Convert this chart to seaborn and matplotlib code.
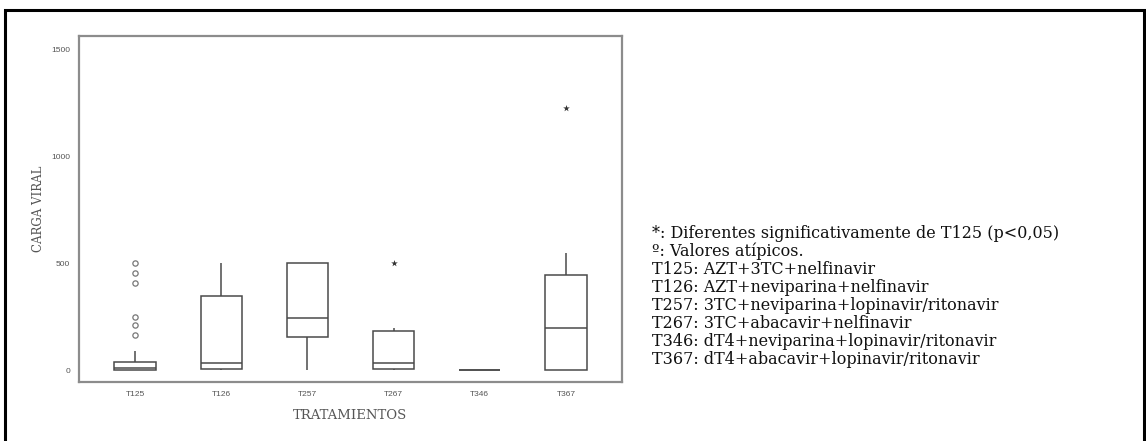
import numpy as np
import pandas as pd
import matplotlib
matplotlib.use("Agg")
import matplotlib.pyplot as plt
from matplotlib.patches import Rectangle
import seaborn as sns

# ---- data (carga viral por tratamiento) ----
categories = ["T125", "T126", "T257", "T267", "T346", "T367"]
t125 = [0, 0, 0, 0, 0, 0, 0, 0, 0, 2, 3, 4, 5, 6, 8, 10, 14, 18, 22, 26, 30, 35, 37, 88,
        164, 210, 248, 407, 453, 500]
t126 = [0, 2, 6, 25, 40, 300, 480, 500]
t257 = [0, 150, 158, 243, 500, 500, 500]
t267 = [0, 2, 6, 28, 38, 178, 196, 500]
t346 = [0, 0, 0, 1, 2]
t367 = [0, 0, 2, 150, 196, 300, 444, 547, 1225]
yticks = [0, 500, 1000, 1500]

notes = [
    "*: Diferentes significativamente de T125 (p<0,05)",
    "\u00ba: Valores at\u00edpicos.",
    "T125: AZT+3TC+nelfinavir",
    "T126: AZT+neviparina+nelfinavir",
    "T257: 3TC+neviparina+lopinavir/ritonavir",
    "T267: 3TC+abacavir+nelfinavir",
    "T346: dT4+neviparina+lopinavir/ritonavir",
    "T367: dT4+abacavir+lopinavir/ritonavir",
]

series = [t125, t126, t257, t267, t346, t367]
df = pd.DataFrame({
    "TRATAMIENTOS": np.concatenate([[c] * len(v) for c, v in zip(categories, series)]),
    "CARGA VIRAL": np.concatenate([np.asarray(v, float) for v in series]),
})

# outliers with the same 1.5*IQR rule as the boxplot
def outliers(v):
    v = np.asarray(v, float)
    q1, q3 = np.percentile(v, [25, 75])
    iqr = q3 - q1
    return v[(v > q3 + 1.5 * iqr) | (v < q1 - 1.5 * iqr)]

flier_marker = {"T125": "o", "T267": "*", "T367": "*"}  # style per group
out_rows = []
for c, v in zip(categories, series):
    for o in outliers(v):
        out_rows.append((c, o))
out_df = pd.DataFrame(out_rows, columns=["TRATAMIENTOS", "CARGA VIRAL"])

# ---- figure ----
W, H = 1146, 441
fig = plt.figure(figsize=(W / 100, H / 100), dpi=100)
sns.set_style("white")
ax = fig.add_axes([79 / W, 1 - 382 / H, (622 - 79) / W, (382 - 36) / H])

line_col = "#4a4a4a"
sns.boxplot(data=df, x="TRATAMIENTOS", y="CARGA VIRAL", order=categories,
            color="white", linecolor=line_col, linewidth=1.1, width=0.48,
            showcaps=False, showfliers=False, whis=1.5, ax=ax)

circ = out_df[out_df["TRATAMIENTOS"].map(flier_marker) == "o"]
star = out_df[out_df["TRATAMIENTOS"].map(flier_marker) == "*"]
sns.stripplot(data=circ, x="TRATAMIENTOS", y="CARGA VIRAL", order=categories,
              jitter=False, marker="o", size=3.8, color="white",
              edgecolor="#777777", linewidth=0.9, ax=ax)
ax.collections[-1].set_facecolor("none")
ax.collections[-1].set_edgecolor("#777777")
sns.stripplot(data=star, x="TRATAMIENTOS", y="CARGA VIRAL", order=categories,
              jitter=False, marker="*", size=5, color="#333333", ax=ax)

ax.set_xlim(-0.65, 5.65)
ax.set_ylim(-56, 1561)
ax.set_yticks(yticks)
ax.set_yticklabels([str(t) for t in yticks])

for s in ax.spines.values():
    s.set_visible(True)
    s.set_color("#8c8c8c")
    s.set_linewidth(1.6)

ax.tick_params(axis="both", which="both", direction="out", length=3, width=0.8,
               color="#777777", labelsize=6, labelcolor="#555555")
for lab in ax.get_xticklabels() + ax.get_yticklabels():
    lab.set_family("Liberation Sans")

ax.set_xlabel("TRATAMIENTOS", family="DejaVu Serif", fontsize=9.5, color="#555555",
              labelpad=8)
ax.set_ylabel("CARGA VIRAL", family="DejaVu Serif", fontsize=8.5, color="#555555",
              labelpad=4)

# notes on the right
y0 = 1 - 233 / H
dy = 18.0 / H
for i, t in enumerate(notes):
    fig.text(652 / W, y0 - i * dy, t, family="DejaVu Serif", fontsize=11.5,
             color="#111111", va="center", ha="left")

# outer frame (bottom edge off the image)
fig.add_artist(Rectangle((5 / W, -0.05), (1144 - 5) / W, (1 - 10 / H) + 0.05,
                         transform=fig.transFigure, fill=False,
                         edgecolor="black", linewidth=2.2, clip_on=False))

fig.savefig("out.png", dpi=100)
